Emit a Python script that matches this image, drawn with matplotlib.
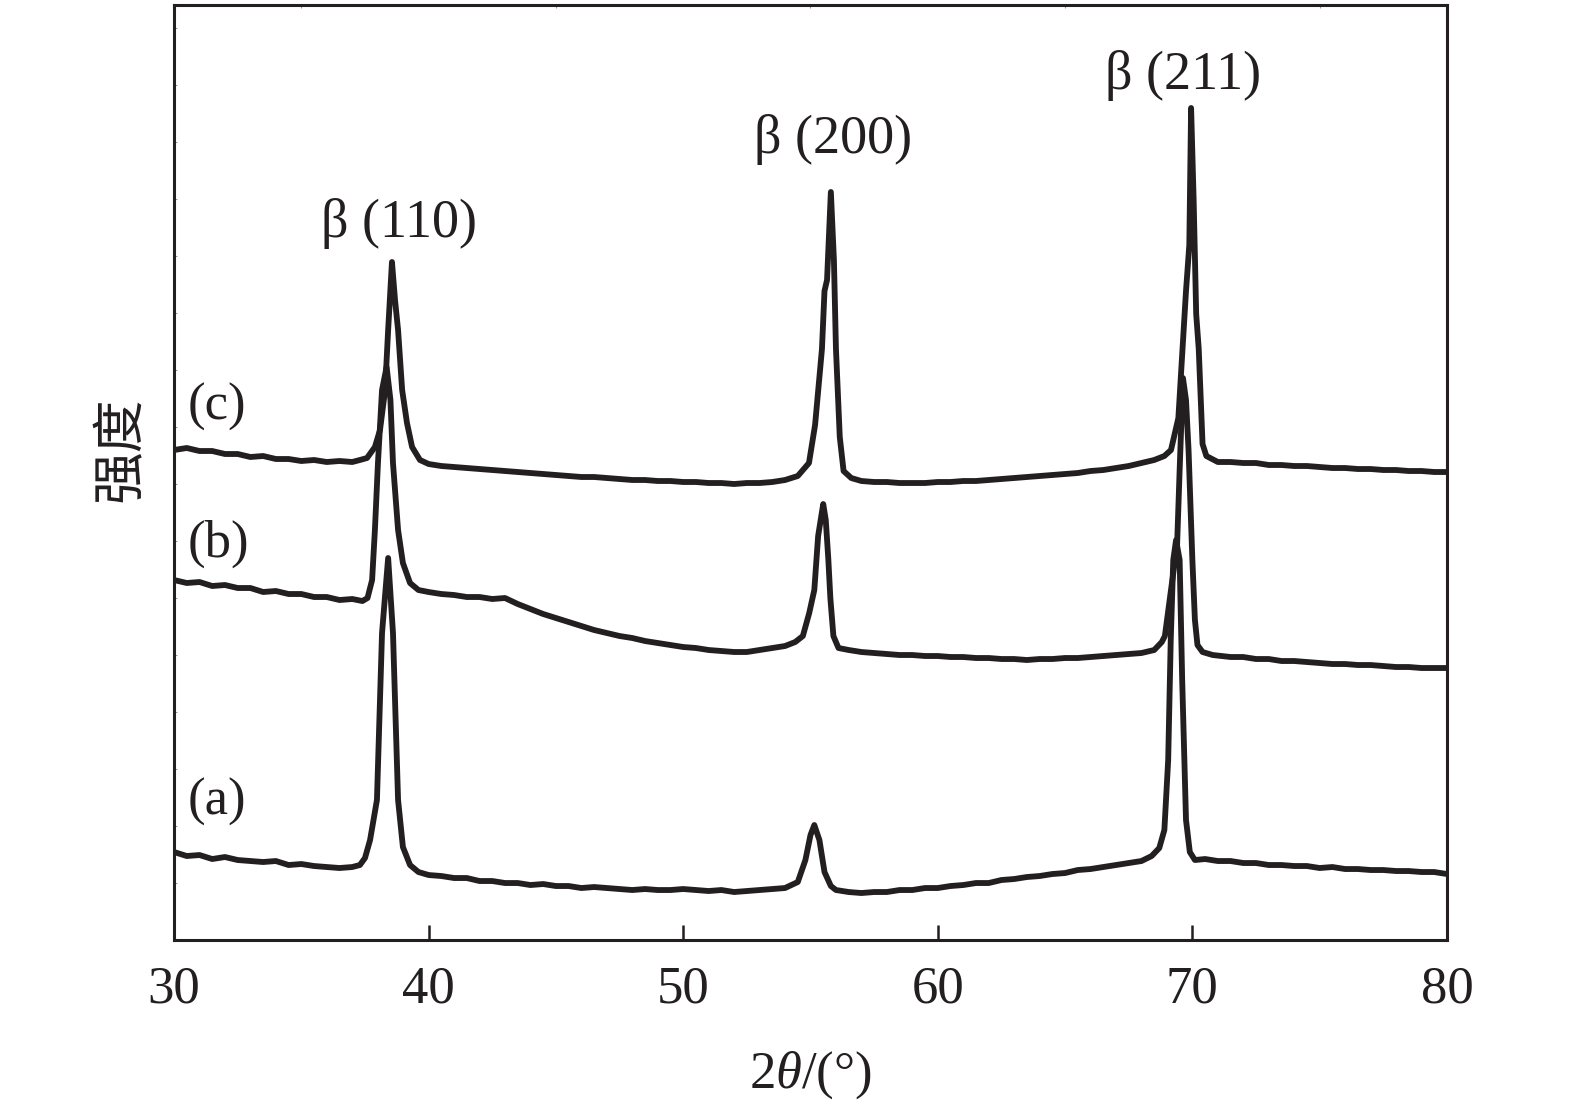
import numpy as np
import matplotlib
matplotlib.use("Agg")
import matplotlib.pyplot as plt
from matplotlib.ticker import MultipleLocator

plt.rcParams['font.family'] = ['Liberation Serif', 'DejaVu Serif']
plt.rcParams['mathtext.fontset'] = 'custom'
plt.rcParams['mathtext.rm'] = 'Liberation Serif'
plt.rcParams['mathtext.it'] = 'Liberation Serif:italic'

# ---- data (2theta in deg, intensity in a.u.) ----
tt_a = [30.0, 30.5, 31.0, 31.5, 32.0, 32.5, 33.0, 33.5, 34.0, 34.5, 35.0, 35.5, 36.0, 36.5,
        37.0, 37.3, 37.5, 37.7, 37.97, 38.17, 38.41, 38.6, 38.8, 38.99, 39.27, 39.6,
        40.0, 40.5, 41.0, 41.5, 42.0, 42.5, 43.0, 43.5, 44.0, 44.5, 45.0, 45.5, 46.0, 46.5,
        47.0, 47.5, 48.0, 48.5, 49.0, 49.5, 50.0, 50.5, 51.0, 51.5, 52.0, 52.5, 53.0, 53.5,
        54.0, 54.5, 54.8, 55.0, 55.15, 55.35, 55.55, 55.8, 56.0, 56.5, 57.0, 57.5, 58.0, 58.5,
        59.0, 59.5, 60.0, 60.5, 61.0, 61.5, 62.0, 62.5, 63.0, 63.5, 64.0, 64.5, 65.0, 65.5,
        66.0, 66.5, 67.0, 67.5, 68.0, 68.4, 68.7, 68.9, 69.05, 69.15, 69.25, 69.36, 69.5,
        69.6, 69.75, 69.9, 70.1, 70.5, 71.0, 71.5, 72.0, 72.5, 73.0, 73.5, 74.0, 74.5, 75.0,
        75.5, 76.0, 76.5, 77.0, 77.5, 78.0, 78.5, 79.0, 79.5, 80.0]
int_a = [88, 84, 85, 81, 83, 80, 79, 78, 79, 75, 76, 74, 73, 72,
         73, 75, 82, 100, 140, 307, 382, 307, 140, 93, 75, 68,
         65, 64, 62, 62, 59, 59, 57, 57, 55, 56, 54, 54, 52, 53,
         52, 51, 50, 51, 50, 50, 51, 50, 49, 50, 48, 49, 50, 51,
         52, 58, 80, 105, 115, 100, 68, 54, 50, 48, 47, 48, 48, 50,
         50, 52, 52, 54, 55, 57, 57, 60, 61, 63, 64, 66, 67, 70,
         71, 73, 75, 77, 79, 84, 92, 110, 180, 300, 380, 400, 380,
         260, 120, 88, 80, 81, 79, 79, 77, 77, 75, 75, 74, 74, 72,
         73, 71, 71, 70, 70, 69, 69, 68, 68, 66]

tt_b = [30.0, 30.5, 31.0, 31.5, 32.0, 32.5, 33.0, 33.5, 34.0, 34.5, 35.0, 35.5, 36.0, 36.5,
        37.0, 37.4, 37.6, 37.78, 37.89, 38.01, 38.17, 38.35, 38.5, 38.6, 38.8, 38.99, 39.27,
        39.6, 40.0, 40.5, 41.0, 41.5, 42.0, 42.5, 43.0, 43.5, 44.0, 44.5, 45.0, 45.5, 46.0,
        46.5, 47.0, 47.5, 48.0, 48.5, 49.0, 49.5, 50.0, 50.5, 51.0, 51.5, 52.0, 52.5, 53.0,
        53.5, 54.0, 54.4, 54.7, 54.95, 55.15, 55.3, 55.5, 55.6, 55.7, 55.78, 55.9, 56.1,
        56.5, 57.0, 57.5, 58.0, 58.5, 59.0, 59.5, 60.0, 60.5, 61.0, 61.5, 62.0, 62.5, 63.0,
        63.5, 64.0, 64.5, 65.0, 65.5, 66.0, 66.5, 67.0, 67.5, 68.0, 68.5, 68.8, 68.92, 69.16,
        69.4, 69.5, 69.63, 69.75, 69.85, 70.0, 70.1, 70.2, 70.4, 70.8, 71.5, 72.0, 72.5, 73.0,
        73.5, 74.0, 74.5, 75.0, 75.5, 76.0, 76.5, 77.0, 77.5, 78.0, 78.5, 79.0, 79.5, 80.0]
int_b = [360, 357, 358, 354, 355, 352, 352, 348, 349, 346, 346, 343, 343, 340,
         341, 339, 342, 360, 410, 477, 550, 573, 540, 477, 410, 377, 357,
         350, 348, 346, 345, 343, 343, 341, 342, 336, 331, 326, 322, 318, 314,
         310, 307, 304, 302, 299, 297, 295, 293, 292, 290, 289, 288, 288, 290,
         292, 294, 298, 304, 327, 350, 404, 436, 420, 381, 342, 304, 292,
         290, 288, 287, 286, 285, 285, 284, 284, 283, 283, 282, 282, 281, 281,
         280, 281, 281, 282, 282, 283, 284, 285, 286, 287, 290, 298, 304, 350,
         395, 470, 562, 540, 490, 380, 320, 295, 288, 285, 283, 283, 281, 281,
         279, 279, 278, 277, 276, 276, 275, 275, 274, 273, 273, 272, 272, 272]

tt_c = [30.0, 30.5, 31.0, 31.5, 32.0, 32.5, 33.0, 33.5, 34.0, 34.5, 35.0, 35.5, 36.0, 36.5,
        37.0, 37.3, 37.58, 37.89, 38.09, 38.29, 38.41, 38.56, 38.68, 38.8, 38.96, 39.15,
        39.35, 39.66, 40.0, 40.5, 41.0, 41.5, 42.0, 42.5, 43.0, 43.5, 44.0, 44.5, 45.0, 45.5,
        46.0, 46.5, 47.0, 47.5, 48.0, 48.5, 49.0, 49.5, 50.0, 50.5, 51.0, 51.5, 52.0, 52.5,
        53.0, 53.5, 54.0, 54.5, 54.94, 55.18, 55.45, 55.55, 55.65, 55.8, 55.92, 56.0, 56.15,
        56.3, 56.6, 57.0, 57.5, 58.0, 58.5, 59.0, 59.5, 60.0, 60.5, 61.0, 61.5, 62.0, 62.5,
        63.0, 63.5, 64.0, 64.5, 65.0, 65.5, 66.0, 66.5, 67.0, 67.5, 68.0, 68.5, 68.9, 69.16,
        69.45, 69.75, 69.88, 69.95, 70.05, 70.15, 70.25, 70.4, 70.55, 71.0, 71.5, 72.0, 72.5,
        73.0, 73.5, 74.0, 74.5, 75.0, 75.5, 76.0, 76.5, 77.0, 77.5, 78.0, 78.5, 79.0, 79.5, 80.0]
int_c = [490, 492, 489, 489, 486, 486, 483, 484, 481, 481, 479, 480, 478, 479,
         478, 480, 482, 493, 510, 550, 610, 678, 640, 610, 550, 517,
         493, 480, 476, 474, 473, 472, 471, 470, 469, 468, 467, 466, 465, 464,
         463, 463, 462, 461, 460, 460, 459, 459, 458, 458, 457, 457, 456, 457,
         457, 458, 460, 464, 477, 515, 591, 649, 660, 748, 680, 591, 503,
         469, 462, 459, 458, 458, 457, 457, 457, 458, 458, 459, 459, 460, 461,
         462, 463, 464, 465, 466, 467, 469, 470, 472, 474, 477, 480, 484, 490,
         522, 649, 695, 832, 740, 626, 591, 496, 484, 478, 478, 477, 477,
         475, 475, 474, 474, 473, 472, 472, 471, 471, 470, 470, 469, 469, 468, 468]

curve_names = ["(a)", "(b)", "(c)"]
peak_names = ["β (110)", "β (200)", "β (211)"]
peak_pos = [38.85, 55.9, 69.65]

ink = "#231f20"

fig = plt.figure(figsize=(15.75, 11.08), dpi=100)
ax = fig.add_axes([0.1105, 0.1516, 0.8082, 0.8439])

for tt, inten in [(tt_a, int_a), (tt_b, int_b), (tt_c, int_c)]:
    ax.plot(tt, inten, color=ink, linewidth=4.2, solid_joinstyle="round")

ax.set_xlim(30, 80)
ax.set_ylim(0, 935)

# sample labels
label_xy = [(30.55, 138), (30.55, 396), (30.55, 533)]
for name, (lx, ly) in zip(curve_names, label_xy):
    ax.text(lx, ly, name, fontsize=38, color=ink, ha="left", va="center")

# peak labels
peak_y = [716, 800, 864]
for name, px, py in zip(peak_names, peak_pos, peak_y):
    ax.text(px, py, name, fontsize=39, color=ink, ha="center", va="center")

ax.xaxis.set_major_locator(MultipleLocator(10))
ax.xaxis.set_minor_locator(MultipleLocator(5))
ax.yaxis.set_minor_locator(MultipleLocator(57))
ax.set_yticks([])
ax.tick_params(axis="x", which="major", direction="in", length=11, width=1.8,
               labelsize=38, pad=18, colors=ink, top=False)
ax.tick_params(axis="x", which="minor", direction="in", length=2, width=0.8,
               bottom=False, top=True, colors="#999999")
ax.tick_params(axis="y", which="minor", direction="in", length=2, width=0.8,
               left=True, colors="#999999")
for t in ax.get_xticklabels():
    t.set_color(ink)

for sp in ax.spines.values():
    sp.set_linewidth(2.2)
    sp.set_color(ink)

ax.set_xlabel(r"2$\it{\theta}$/(°)", fontsize=38, color=ink, labelpad=26)
ax.set_ylabel("强度", fontsize=38, color=ink,
              family=["Noto Sans CJK SC", "DejaVu Sans"])
ax.yaxis.set_label_coords(-0.021, 0.525)

fig.savefig("out.png", dpi=100)
